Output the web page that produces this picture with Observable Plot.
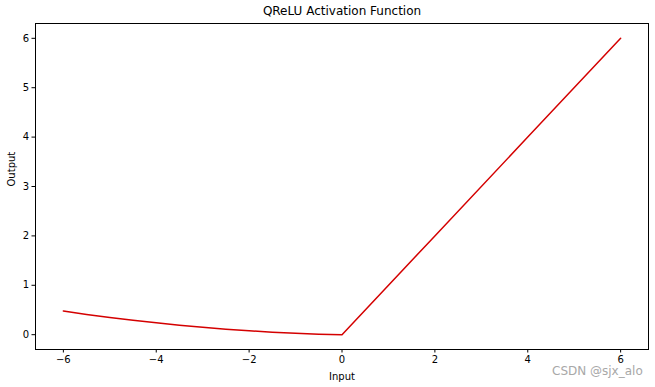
<!DOCTYPE html>
<html>
<head>
<meta charset="utf-8">
<script src="https://cdn.jsdelivr.net/npm/d3@7"></script>
<script src="https://cdn.jsdelivr.net/npm/@observablehq/plot@0.6"></script>
<style>
  html, body { margin: 0; padding: 0; background: #fff; }
  #chart { position: relative; width: 655px; height: 387px; }
  .wm { position: absolute; left: 552px; top: 364px; font: 12px "DejaVu Sans", sans-serif; color: #a8a8a8; white-space: nowrap; }
</style>
</head>
<body>
<div id="chart"></div>
<script>
// Values
const inputs  = [-6, -5.5, -5, -4.5, -4, -3.5, -3, -2.5, -2, -1.5, -1, -0.5, 0, 2, 4, 6];
const outputs = [0.48, 0.41, 0.35, 0.29, 0.24, 0.19, 0.15, 0.11, 0.08, 0.05, 0.03, 0.01, 0, 2, 4, 6];
const xTicks = [-6, -4, -2, 0, 2, 4, 6];
const yTicks = [0, 1, 2, 3, 4, 5, 6];
const title = "QReLU Activation Function";
const xLabel = "Input";
const yLabel = "Output";
const watermark = "CSDN @sjx_alo";

const data = inputs.map((x, i) => ({x, y: outputs[i]}));
const fmt = d => d < 0 ? "\u2212" + (-d) : String(d);

const plot = Plot.plot({
  width: 655,
  height: 387,
  marginLeft: 35,
  marginRight: 7,
  marginTop: 23,
  marginBottom: 38,
  style: {fontFamily: "DejaVu Sans, sans-serif", fontSize: "10px", background: "#fff", color: "#000"},
  x: {domain: [-6.6, 6.6], ticks: xTicks, tickFormat: fmt, tickSize: 3.5, tickPadding: 3, label: null},
  y: {domain: [-0.3, 6.3], ticks: yTicks, tickFormat: fmt, tickSize: 3.5, tickPadding: 3, label: null},
  marks: [
    Plot.line(data, {x: "x", y: "y", stroke: "#d40000", strokeWidth: 1.5}),
    Plot.frame({stroke: "#000", strokeWidth: 1}),
    Plot.axisX({ticks: xTicks, tickFormat: fmt, tickSize: 3.5, tickPadding: 3, label: null, fontSize: 10}),
    Plot.axisY({ticks: yTicks, tickFormat: fmt, tickSize: 3.5, tickPadding: 3, label: null, fontSize: 10}),
    Plot.text([title], {frameAnchor: "top", dy: -9, text: d => d, fontSize: 12, lineAnchor: "bottom", fill: "#000"}),
    Plot.text([xLabel], {frameAnchor: "bottom", dy: 30, text: d => d, fontSize: 10, lineAnchor: "bottom", fill: "#000"}),
    Plot.text([yLabel], {frameAnchor: "left", dx: -24, text: d => d, fontSize: 10, rotate: -90, fill: "#000"})
  ]
});
const root = document.getElementById("chart");
root.appendChild(plot);
const wm = document.createElement("div");
wm.className = "wm";
wm.textContent = watermark;
root.appendChild(wm);
</script>
</body>
</html>
